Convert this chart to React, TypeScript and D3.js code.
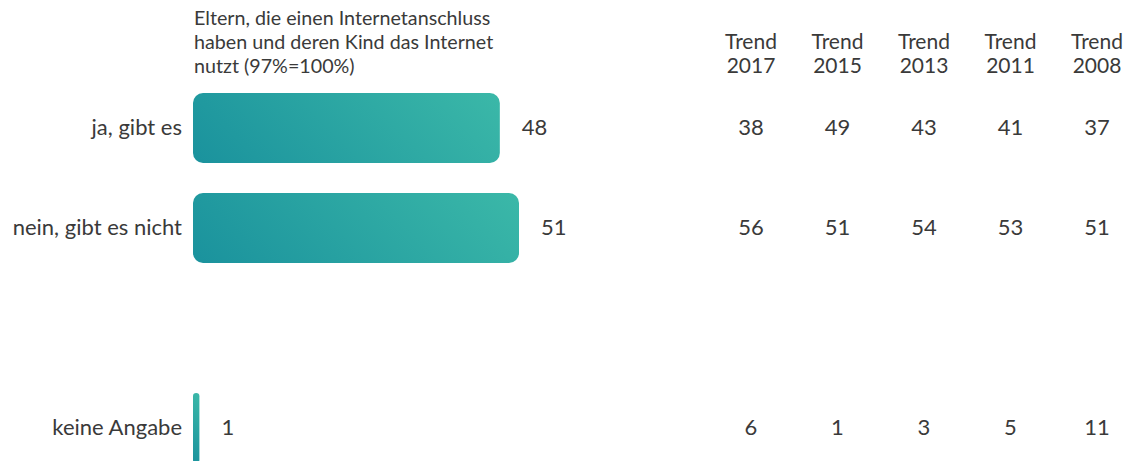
import * as d3 from 'd3';

// Survey answers and shares (percent)
const categories = ['ja, gibt es', 'nein, gibt es nicht', '', 'keine Angabe'];
const values: (number | null)[] = [48, 51, null, 1];

const trendYears = ['2017', '2015', '2013', '2011', '2008'];
const trendValues: (number | null)[][] = [
  [38, 49, 43, 41, 37],
  [56, 51, 54, 53, 51],
  [null, null, null, null, null],
  [6, 1, 3, 5, 11],
];

const titleLines = [
  'Eltern, die einen Internetanschluss',
  'haben und deren Kind das Internet',
  'nutzt (97%=100%)',
];

const W = 1129;
const H = 461;
const FONT = 'Lato, "Open Sans", sans-serif';
const TEXT = '#3a3a3a';

export default function App() {
  const x = d3.scaleLinear().domain([0, 51]).range([193, 519]);
  const y = d3.scaleBand<string>()
    .domain(categories.map((_, i) => String(i)))
    .range([78, 478])
    .paddingInner(0.3)
    .paddingOuter(0.15);
  const tx = d3.scalePoint<string>().domain(trendYears).range([751, 1097]);

  return (
    <div style={{ position: 'absolute', left: 0, top: 0 }}>
      <svg width={W} height={H} style={{ display: 'block' }} fontFamily={FONT}>
        {titleLines.map((t, i) => (
          <text key={i} x={194} y={25 + i * 24} fontSize={19.7} fill={TEXT}>{t}</text>
        ))}
        {trendYears.map((yr) => (
          <g key={yr}>
            <text x={tx(yr)} y={49} fontSize={21} fill={TEXT} textAnchor="middle">Trend</text>
            <text x={tx(yr)} y={73} fontSize={21} fill={TEXT} textAnchor="middle">{yr}</text>
          </g>
        ))}
        {categories.map((c, i) => {
          const v = values[i];
          const y0 = y(String(i))!;
          const bh = y.bandwidth();
          const cy = y0 + bh / 2;
          if (v == null) return null;
          const bw = x(v) - x(0);
          const r = Math.min(10, bw / 2);
          // 45deg gradient, bottom-left dark to top-right light
          const cx = x(0) + bw / 2;
          const half = ((bw + bh) * Math.SQRT1_2) / 2;
          const dx = half * Math.SQRT1_2;
          const gid = `grad${i}`;
          return (
            <g key={i}>
              <defs>
                <linearGradient id={gid} gradientUnits="userSpaceOnUse"
                  x1={cx - dx} y1={cy + dx} x2={cx + dx} y2={cy - dx}>
                  <stop offset="0%" stopColor="#1a929d" />
                  <stop offset="100%" stopColor="#3bb8a8" />
                </linearGradient>
              </defs>
              <text x={182} y={cy} dy="0.32em" fontSize={22} fill={TEXT} textAnchor="end">{c}</text>
              <rect x={x(0)} y={y0} width={bw} height={bh} rx={r} ry={r} fill={`url(#${gid})`} />
              <text x={x(v) + 22} y={cy} dy="0.32em" fontSize={22} fill={TEXT}>{v}</text>
              {trendValues[i].map((tv, j) => tv == null ? null : (
                <text key={j} x={tx(trendYears[j])} y={cy} dy="0.32em" fontSize={22} fill={TEXT} textAnchor="middle">{tv}</text>
              ))}
            </g>
          );
        })}
      </svg>
    </div>
  );
}
